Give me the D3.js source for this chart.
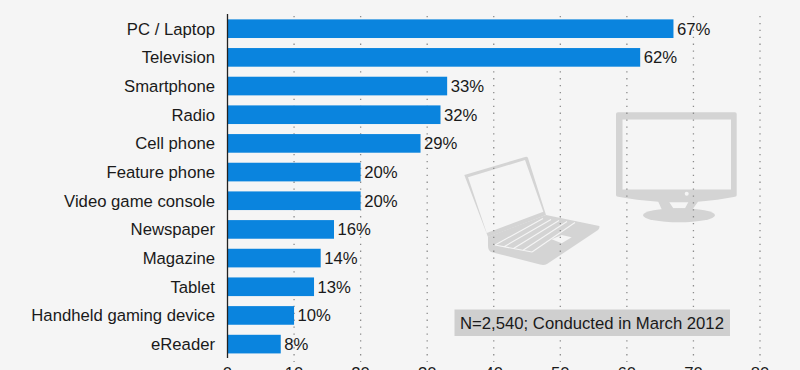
<!DOCTYPE html>
<html>
<head>
<meta charset="utf-8">
<script src="https://cdn.jsdelivr.net/npm/d3@7/dist/d3.min.js"></script>
<style>
html, body { margin: 0; padding: 0; background: #f5f5f5; overflow: hidden; }
text { font-family: "Liberation Sans", Arial, sans-serif; fill: #1a1a1a; }
</style>
</head>
<body>
<div id="chart"></div>
<script>
var categories = ["PC / Laptop", "Television", "Smartphone", "Radio", "Cell phone", "Feature phone",
	"Video game console", "Newspaper", "Magazine", "Tablet", "Handheld gaming device", "eReader"];
var values = [67, 62, 33, 32, 29, 20, 20, 16, 14, 13, 10, 8];
var xTicks = [0, 10, 20, 30, 40, 50, 60, 70, 80];
var note = "N=2,540; Conducted in March 2012";

var width = 800, height = 370;
var fontSize = 16.7;
var bg = "#f5f5f5";
var iconColor = "#d4d4d4";

var svg = d3.select("#chart").append("svg")
	.attr("width", width)
	.attr("height", height)
	.style("display", "block");

svg.append("rect").attr("width", width).attr("height", height).attr("fill", bg);

var x = d3.scaleLinear().domain([0, 80]).range([227.5, 760]);
var y = d3.scaleBand().domain(categories).range([14.5, 358.3]).paddingInner(0.35).paddingOuter(0.17);

// laptop
var laptop = svg.append("g").attr("fill", iconColor);
laptop.append("path")
	.attr("fill-rule", "evenodd")
	.attr("d", "M464.3,175 L526,156.7 Q527.7,156.7 528,158 L546,215 L488,237 Z M468,177.3 L486.7,233 L543.3,211.7 L525,160 Z");
laptop.append("path")
	.attr("d", "M488,236.7 L546,215 L599.3,226 Q600,228 598,230 L547,264 Q544,265.5 540,264.5 L491,252 Q488,250 488,246 Z");
// keyboard and touchpad
laptop.append("path")
	.attr("fill", "none")
	.attr("stroke", bg)
	.attr("stroke-width", 1.1)
	.attr("d", "M495,245 L543,218.5 M504,246.8 L551,219.5 M513.5,248.5 L559,220.5 M523,250.3 L567,221.5 M532,252 L575,222.5 M495,245 L532,252");
laptop.append("path")
	.attr("fill", bg)
	.attr("d", "M551.7,239.3 L561.7,235 L571.7,237.3 L561.7,243.3 Z");

// monitor
var monitor = svg.append("g").attr("fill", iconColor);
monitor.append("path")
	.attr("fill-rule", "evenodd")
	.attr("d", "M618,112.3 L735,112.3 Q736.7,112.3 736.7,114 L736.7,195 Q736.7,196.7 735,196.7 Q718,200 698,201.7 L692,210 L662,210 L658.3,201.7 Q636,200 618,196.7 Q616,196.7 616,195 L616,114 Q616,112.3 618,112.3 Z M622.5,119.5 L622.5,189.5 L731,189.5 L731,119.5 Z M669.3,202.3 L673.3,208.3 L685,208.3 L688.3,202.3 Z");
monitor.append("ellipse").attr("cx", 679).attr("cy", 215.3).attr("rx", 36).attr("ry", 7);
monitor.append("circle").attr("cx", 686.7).attr("cy", 193.7).attr("r", 2).attr("fill", bg);

// dotted grid goes over the icons
svg.append("g").selectAll("line")
	.data(xTicks.slice(1))
	.enter().append("line")
	.attr("x1", d => x(d))
	.attr("x2", d => x(d))
	.attr("y1", 16)
	.attr("y2", 362)
	.attr("stroke", "#8c8c8c")
	.attr("stroke-width", 1.3)
	.attr("stroke-dasharray", "1.3 5.6");

svg.append("g").selectAll("rect")
	.data(values)
	.enter().append("rect")
	.attr("x", x(0))
	.attr("y", (d, i) => y(categories[i]))
	.attr("width", d => x(d) - x(0))
	.attr("height", y.bandwidth())
	.attr("fill", "#0a84de");

svg.append("line")
	.attr("x1", x(0)).attr("x2", x(0))
	.attr("y1", 14).attr("y2", 358)
	.attr("stroke", "#222")
	.attr("stroke-width", 1.3);

svg.append("g").selectAll("text")
	.data(categories)
	.enter().append("text")
	.attr("x", 215)
	.attr("y", d => y(d) + y.bandwidth() / 2)
	.attr("dy", "0.36em")
	.attr("text-anchor", "end")
	.attr("font-size", fontSize)
	.text(d => d);

svg.append("g").selectAll("text")
	.data(values)
	.enter().append("text")
	.attr("x", d => x(d) + 3.5)
	.attr("y", (d, i) => y(categories[i]) + y.bandwidth() / 2)
	.attr("dy", "0.36em")
	.attr("font-size", fontSize)
	.text(d => d + "%");

// the tick labels run off the bottom of the picture in the reference too
svg.append("g").selectAll("text")
	.data(xTicks)
	.enter().append("text")
	.attr("x", d => x(d))
	.attr("y", 379)
	.attr("text-anchor", "middle")
	.attr("font-size", fontSize)
	.text(d => d);

svg.append("rect")
	.attr("x", 454.5).attr("y", 309.5)
	.attr("width", 275.5).attr("height", 26.5)
	.attr("fill", "#cfcfcf");

svg.append("text")
	.attr("x", 460)
	.attr("y", 322.5)
	.attr("dy", "0.36em")
	.attr("font-size", fontSize)
	.text(note);
</script>
</body>
</html>
